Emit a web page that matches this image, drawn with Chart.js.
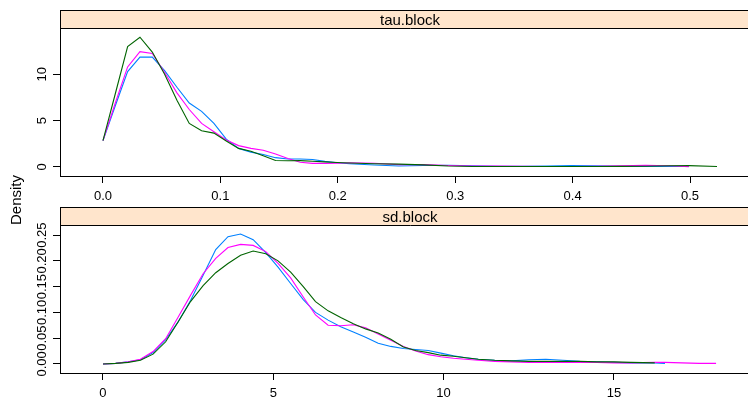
<!DOCTYPE html>
<html>
<head>
<meta charset="utf-8">
<script src="https://cdn.jsdelivr.net/npm/chart.js@4.4.1/dist/chart.umd.min.js"></script>
<style>
  body { margin: 0; background: #fff; overflow: hidden; }
  #wrap { position: relative; width: 748px; height: 398px; overflow: hidden; font-family: "Liberation Sans", Arial, sans-serif; }
  canvas { position: absolute; left: 0; }
  #ylab { position: absolute; left: -34.5px; top: 191px; width: 100px; height: 18px; line-height: 18px;
          text-align: center; font-size: 15px; transform: rotate(-90deg); }
</style>
</head>
<body>
<div id="wrap">
  <canvas id="tauChart" width="762" height="200" style="top:0"></canvas>
  <canvas id="sdChart" width="762" height="198" style="top:200px"></canvas>
  <div id="ylab">Density</div>
</div>
<script>
// ---- chain colours (lattice superpose.line) ----
const chainColors = ["#0080ff", "#ff00ff", "#006400"];

// ---- tau.block panel ----
const tauX = [0, 0.0105, 0.021, 0.0315, 0.042, 0.0525, 0.063, 0.0735, 0.084, 0.0945,
  0.105, 0.1155, 0.126, 0.1365, 0.147, 0.1575, 0.168, 0.1785, 0.189, 0.1995,
  0.21, 0.231, 0.252, 0.273, 0.294, 0.315, 0.336, 0.357, 0.378, 0.399,
  0.42, 0.441, 0.462, 0.483, 0.499, 0.523];
const tauChain1 = [2.84, 6.6, 10.3, 11.85, 11.85, 10.4, 8.6, 6.9, 6.0, 4.7,
  3.0, 2.0, 1.6, 1.35, 1.0, 0.86, 0.86, 0.8, 0.6, 0.45,
  0.35, 0.2, 0.1, 0.15, 0.18, 0.12, 0.08, 0.08, 0.1, 0.15,
  0.12, 0.06, 0.05, 0.05, 0.05];
const tauChain2 = [2.84, 6.9, 10.8, 12.45, 12.25, 10.2, 8.0, 6.2, 4.7, 3.8,
  2.9, 2.3, 2.0, 1.8, 1.4, 0.9, 0.5, 0.38, 0.38, 0.4,
  0.45, 0.4, 0.25, 0.25, 0.15, 0.1, 0.1, 0.08, 0.05, 0.05,
  0.08, 0.12, 0.18, 0.12, 0.03];
const tauChain3 = [2.84, 7.9, 13.0, 14.0, 12.4, 10.0, 7.2, 4.7, 3.9, 3.65,
  2.8, 2.0, 1.7, 1.2, 0.7, 0.66, 0.68, 0.62, 0.55, 0.48,
  0.42, 0.35, 0.3, 0.22, 0.1, 0.05, 0.05, 0.04, 0.05, 0.05,
  0.05, 0.06, 0.08, 0.12, 0.14, 0.05];
const tauXTicks = [0, 0.1, 0.2, 0.3, 0.4, 0.5];
const tauXLabels = ["0.0", "0.1", "0.2", "0.3", "0.4", "0.5"];
const tauYTicks = [0, 5, 10];
const tauYLabels = ["0", "5", "10"];

// ---- sd.block panel ----
const sdX = [0, 0.37, 0.74, 1.1, 1.47, 1.84, 2.2, 2.57, 2.94, 3.31,
  3.67, 4.04, 4.41, 4.78, 5.14, 5.51, 5.88, 6.24, 6.61, 6.98,
  7.35, 7.71, 8.08, 8.45, 8.82, 9.18, 9.55, 9.92, 10.29, 10.65,
  11.02, 11.5, 12, 12.5, 13, 13.5, 14, 14.5, 15, 15.5,
  16.2, 16.5, 17, 17.5, 18];
const sdChain1 = [0, 0.001, 0.004, 0.008, 0.022, 0.047, 0.081, 0.123, 0.172, 0.222,
  0.247, 0.252, 0.241, 0.216, 0.188, 0.156, 0.125, 0.1, 0.085, 0.072,
  0.062, 0.052, 0.04, 0.034, 0.03, 0.028, 0.026, 0.021, 0.016, 0.012,
  0.009, 0.007, 0.006, 0.008, 0.009, 0.007, 0.005, 0.004, 0.003, 0.002,
  0.002, 0.001];
const sdChain2 = [0, 0.001, 0.004, 0.009, 0.024, 0.049, 0.09, 0.133, 0.175, 0.205,
  0.226, 0.232, 0.23, 0.218, 0.195, 0.167, 0.13, 0.095, 0.075, 0.074,
  0.076, 0.07, 0.058, 0.046, 0.034, 0.025, 0.018, 0.014, 0.011, 0.009,
  0.007, 0.005, 0.004, 0.003, 0.003, 0.003, 0.003, 0.003, 0.002, 0.002,
  0.003, 0.003, 0.002, 0.001, 0.001];
const sdChain3 = [0, 0.001, 0.003, 0.007, 0.019, 0.043, 0.081, 0.121, 0.152, 0.177,
  0.195, 0.211, 0.219, 0.214, 0.2, 0.178, 0.15, 0.121, 0.103, 0.09,
  0.078, 0.068, 0.06, 0.048, 0.033, 0.026, 0.022, 0.017, 0.015, 0.012,
  0.009, 0.007, 0.006, 0.005, 0.005, 0.005, 0.005, 0.004, 0.004, 0.003,
  0.002];
const sdXTicks = [0, 5, 10, 15];
const sdXLabels = ["0", "5", "10", "15"];
const sdYTicks = [0, 0.05, 0.1, 0.15, 0.2, 0.25];
const sdYLabels = ["0.00", "0.05", "0.10", "0.15", "0.20", "0.25"];

const FONT = '"Liberation Sans", Arial, sans-serif';
Chart.defaults.font.family = FONT;
Chart.defaults.color = "#000";

// strip, panel box and tick labels, lattice style (y labels rotated)
const latticePanel = {
  id: "latticePanel",
  afterDraw(chart, args, opts) {
    const { ctx, chartArea: a } = chart;
    const xScale = chart.scales.x, yScale = chart.scales.y;
    const l = Math.round(a.left) + 0.5, r = Math.round(a.right) + 0.5;
    const t = Math.round(a.top) + 0.5, b = Math.round(a.bottom) + 0.5;
    const st = t - opts.stripHeight;
    ctx.save();
    ctx.fillStyle = "#ffe5cc";
    ctx.fillRect(l, st, r - l, t - st);
    ctx.strokeStyle = "#000";
    ctx.lineWidth = 1;
    ctx.strokeRect(l, st, r - l, b - st);
    ctx.beginPath();
    ctx.moveTo(l, t);
    ctx.lineTo(r, t);
    ctx.stroke();

    ctx.fillStyle = "#000";
    ctx.textAlign = "center";
    ctx.textBaseline = "middle";
    ctx.font = "15px " + FONT;
    ctx.fillText(opts.title, (a.left + a.right) / 2, (st + t) / 2 + 1);

    ctx.font = "13px " + FONT;
    opts.xTicks.forEach((v, i) => {
      ctx.fillText(opts.xLabels[i], xScale.getPixelForValue(v), a.bottom + 20);
    });
    opts.yTicks.forEach((v, i) => {
      ctx.save();
      ctx.translate(42, yScale.getPixelForValue(v));
      ctx.rotate(-Math.PI / 2);
      ctx.fillText(opts.yLabels[i], 0, 0);
      ctx.restore();
    });
    ctx.restore();
  }
};

function toPoints(xs, ys) {
  return ys.map((y, i) => ({ x: xs[i], y }));
}

function buildPanel(id, title, xs, chains, xr, yr, xTicks, xLabels, yTicks, yLabels, padTop, axisH) {
  new Chart(document.getElementById(id), {
    type: "line",
    data: {
      datasets: chains.map((ys, i) => ({
        data: toPoints(xs, ys),
        borderColor: chainColors[i],
        borderWidth: 1.1,
        pointRadius: 0,
        tension: 0,
        fill: false,
        order: chains.length - i
      }))
    },
    options: {
      responsive: false,
      animation: false,
      layout: { padding: { top: padTop, right: 2, left: 0, bottom: 0 } },
      plugins: {
        legend: { display: false },
        tooltip: { enabled: false },
        latticePanel: { title, stripHeight: 18, xTicks, xLabels, yTicks, yLabels }
      },
      scales: {
        x: {
          type: "linear",
          min: xr[0], max: xr[1],
          afterBuildTicks: s => { s.ticks = xTicks.map(v => ({ value: v })); },
          afterFit: s => { s.height = axisH; },
          ticks: { display: false },
          grid: { drawOnChartArea: false, drawTicks: true, tickLength: 7, color: "#000" },
          border: { display: false }
        },
        y: {
          type: "linear",
          min: yr[0], max: yr[1],
          afterBuildTicks: s => { s.ticks = yTicks.map(v => ({ value: v })); },
          afterFit: s => { s.width = 60; },
          ticks: { display: false },
          grid: { drawOnChartArea: false, drawTicks: true, tickLength: 7, color: "#000" },
          border: { display: false }
        }
      }
    },
    plugins: [latticePanel]
  });
}

buildPanel("tauChart", "tau.block", tauX, [tauChain1, tauChain2, tauChain3],
  [-0.0366, 0.5596], [-0.98, 15.0], tauXTicks, tauXLabels, tauYTicks, tauYLabels, 28, 24);
buildPanel("sdChart", "sd.block", sdX, [sdChain1, sdChain2, sdChain3],
  [-1.262, 19.29], [-0.0176, 0.2696], sdXTicks, sdXLabels, sdYTicks, sdYLabels, 25, 25);
</script>
</body>
</html>
